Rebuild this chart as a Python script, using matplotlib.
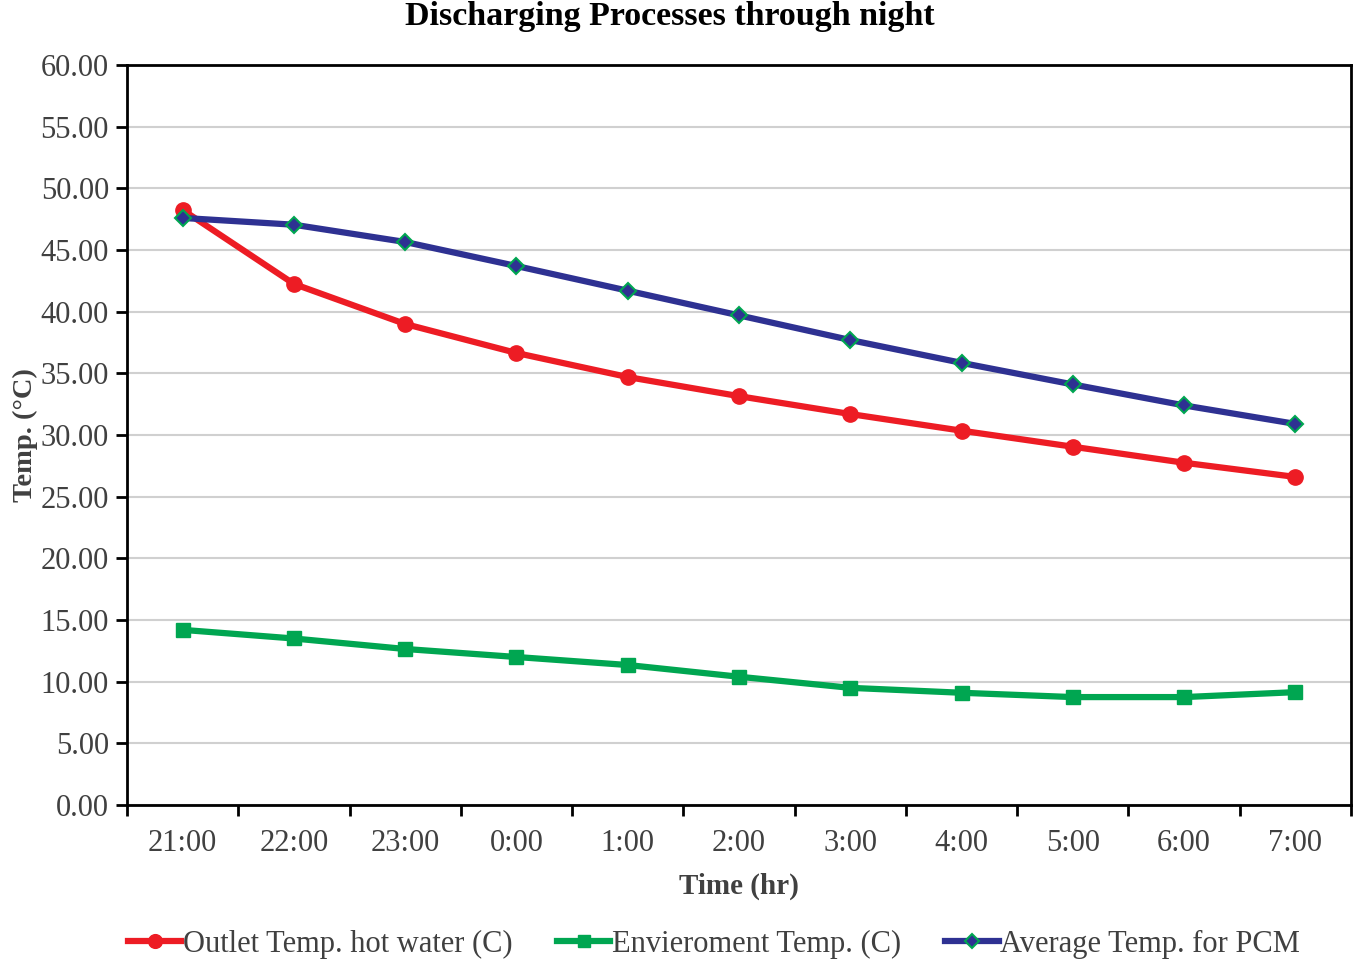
import numpy as np
import matplotlib.pyplot as plt

times = ["21:00", "22:00", "23:00", "0:00", "1:00", "2:00", "3:00", "4:00", "5:00", "6:00", "7:00"]
outlet_temp = [48.25, 42.25, 39.0, 36.65, 34.7, 33.15, 31.7, 30.35, 29.05, 27.75, 26.6]
env_temp = [14.2, 13.5, 12.65, 12.0, 11.35, 10.4, 9.5, 9.1, 8.75, 8.75, 9.15]
pcm_temp = [47.6, 47.05, 45.65, 43.7, 41.7, 39.7, 37.7, 35.85, 34.1, 32.4, 30.9]

plt.rcParams['font.family'] = ['Liberation Serif', 'DejaVu Serif']

fig = plt.figure(figsize=(13.55, 9.63), dpi=100)
ax = fig.add_axes([127/1355, 1-805/963, (1351-127)/1355, (805-65)/963])

x = np.arange(len(times))
ax.plot(x, outlet_temp, color='#ed1c24', lw=4.5, marker='o', ms=11,
        label='Outlet Temp. hot water (C)')
ax.plot(x, env_temp, color='#00a651', lw=4.5, marker='s', ms=10,
        label='Envieroment Temp. (C)')
ax.plot(x, pcm_temp, color='#2e3192', lw=4.5, marker='D', ms=8,
        markeredgecolor='#00a651', markeredgewidth=1.5,
        label='Average Temp. for PCM')

ax.set_xlim(-0.5, len(times) - 0.5)
ax.set_ylim(0, 60)
ax.set_yticks(np.arange(0, 61, 5))
ax.set_yticklabels(["{:.2f}".format(v) for v in np.arange(0, 61, 5)])
ax.set_xticks(x)
ax.set_xticklabels(times)
ax.set_xticks(np.arange(-0.5, len(times), 1), minor=True)
ax.tick_params(axis='x', which='major', length=0, pad=17)
ax.tick_params(axis='x', which='minor', length=8, width=2, direction='out')
ax.tick_params(axis='y', length=8, width=2, direction='out', pad=5)
ax.tick_params(labelsize=22, labelcolor='#404040')

ax.grid(axis='y', color='#d0d0d0', lw=1.5)
ax.set_axisbelow(True)
for s in ax.spines.values():
    s.set_linewidth(2)
    s.set_color('black')

fig.text(670/1355, 1-16/963, "Discharging Processes through night", fontsize=24.5,
         fontweight='bold', ha='center', va='center')
ax.set_xlabel("Time (hr)", fontsize=21, fontweight='bold', color='#404040', labelpad=11)
ax.set_ylabel("Temp. (°C)", fontsize=20.5, fontweight='bold', color='#404040', labelpad=2)

ax.legend(loc='center', bbox_to_anchor=(714/1355, 1-944/963), bbox_transform=fig.transFigure,
          ncol=3, frameon=False, fontsize=22, labelcolor='#404040', handlelength=1.75,
          handletextpad=0.05, columnspacing=1.45, markerscale=0.9)

fig.savefig("out.png", dpi=100)
